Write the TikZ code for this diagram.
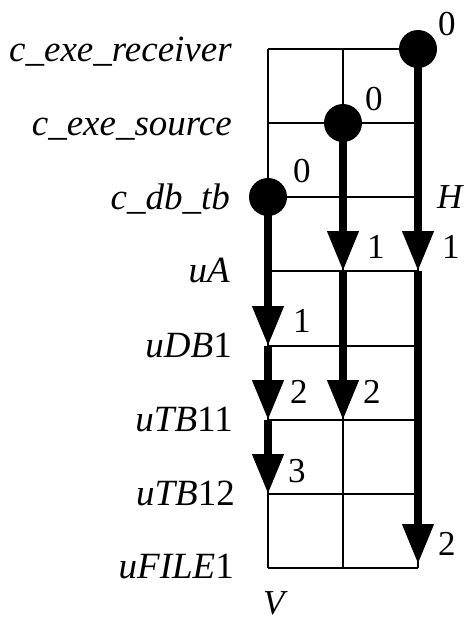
\documentclass[tikz,border=0pt]{standalone}
\usepackage{fontspec}
\setmainfont{Liberation Serif}
\usetikzlibrary{arrows.meta}
\begin{document}
\begin{tikzpicture}[x=1pt,y=-1pt,
  grid/.style={line width=2pt},
  flow/.style={line width=7.5pt,-{Triangle[width=30pt,length=40pt]}},
  dot/.style={circle,fill=black,minimum size=38pt,inner sep=0pt},
  rowlabel/.style={anchor=base east,inner sep=0pt,font=\fontsize{37}{37}\selectfont},
  num/.style={anchor=base west,inner sep=0pt,font=\fontsize{35}{35}\selectfont}]
\useasboundingbox (0,0) rectangle (466,622);

% grid points: row i, column j
\foreach \i/\y in {0/49,1/123,2/197,3/271,4/346,5/420,6/494,7/568}
  \foreach \j/\x in {0/268,1/343,2/418}
    \coordinate (g\i\j) at (\x,\y);

% thin grid
\foreach \j in {0,1,2}
  \draw[grid] (g0\j) -- (g7\j);
\foreach \i in {0,...,7}
  \draw[grid] (g\i0) -- (g\i2);

% row labels
\node[rowlabel] (l0) at (232,61) {\textit{c\_exe\_receiver}};
\node[rowlabel] (l1) at (232,135) {\textit{c\_exe\_source}};
\node[rowlabel] (l2) at (230,209) {\textit{c\_db\_tb}};
\node[rowlabel] (l3) at (230,282) {\textit{uA}};
\node[rowlabel] (l4) at (232,357) {\textit{uDB}1};
\node[rowlabel] (l5) at (233,431) {\textit{uTB}11};
\node[rowlabel] (l6) at (235,505) {\textit{uTB}12};
\node[rowlabel] (l7) at (234,578) {\textit{uFILE}1};

% flows
\coordinate (endR) at (418,564);
\draw[flow] (g02) -- (g32);
\draw[flow] (g32) -- (endR);
\draw[flow] (g11) -- (g31);
\draw[flow] (g31) -- (g51);
\draw[flow] (g20) -- (g40);
\draw[flow] (g40) -- (g50);
\draw[flow] (g50) -- (g60);

% start points
\node[dot] (sR) at (g02) {};
\node[dot] (sS) at (g11) {};
\node[dot] (sD) at (g20) {};

% counters
\node[num] (nR0) at (438,35) {0};
\node[num] (nS0) at (365,110) {0};
\node[num] (nD0) at (293,182) {0};
\node[num] (nS1) at (367,258) {1};
\node[num] (nR1) at (442,258) {1};
\node[num] (nD1) at (293,332) {1};
\node[num] (nD2) at (290,403) {2};
\node[num] (nS2) at (363,403) {2};
\node[num] (nD3) at (288,482) {3};
\node[num] (nR2) at (438,555) {2};

% axis letters
\node[num] (H) at (437,208) {\textit{H}};
\node[num] (V) at (263,614) {\textit{V}};
\end{tikzpicture}
\end{document}
